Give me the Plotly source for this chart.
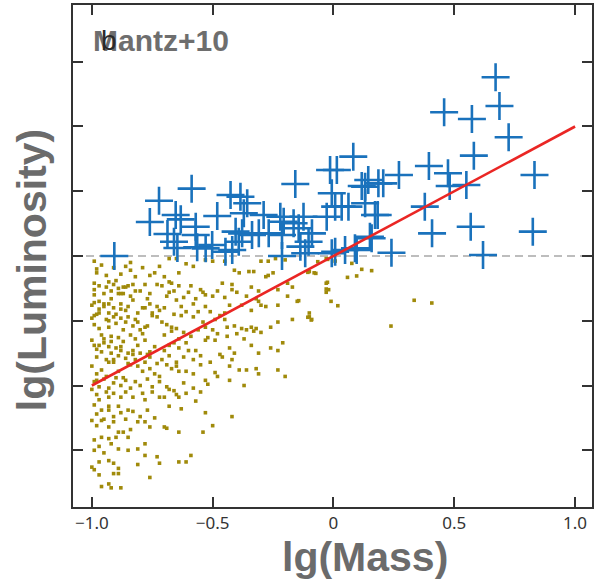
import plotly.graph_objects as go

# Blue crosses: clusters above the luminosity threshold (lg(Mass), lg(Luminosity))
det_mass = [-0.907, -0.760, -0.722, -0.587, -0.653, -0.632, -0.687, -0.660, -0.646, -0.570,
            -0.570, -0.564, -0.529, -0.502, -0.481, -0.426, -0.385, -0.357, -0.371, -0.405,
            -0.378, -0.337, -0.392, -0.447, -0.419, -0.289, -0.309, -0.268, -0.220, -0.206,
            -0.213, -0.213, -0.158, -0.165, -0.144, -0.124, -0.089, -0.103, -0.137, -0.117,
            -0.014, 0.014, 0.082, -0.007, 0.007, 0.034, 0.062, -0.028, 0.007, 0.048,
            0.089, 0.131, 0.144, 0.131, 0.172, 0.151, 0.671, 0.687, 0.458, 0.573,
            0.725, 0.581, 0.395, 0.474, 0.271, 0.832, 0.117, 0.186, 0.206, 0.481,
            0.550, 0.183, 0.378, 0.158, 0.408, 0.568, 0.825, 0.240, 0.619, 0.096,
            -0.007]
det_lum = [0.000, 0.263, 0.427, 0.520, 0.317, 0.283, 0.170, 0.110, 0.062, 0.226,
           0.162, 0.067, 0.059, 0.085, 0.309, 0.471, 0.458, 0.407, 0.330, 0.188,
           0.175, 0.162, 0.110, 0.033, 0.046, 0.317, 0.175, 0.175, 0.303, 0.265,
           0.162, 0.000, 0.556, 0.253, 0.214, 0.303, 0.175, 0.110, 0.072, 0.021,
           0.664, 0.664, 0.767, 0.484, 0.381, 0.381, 0.381, 0.303, 0.033, 0.046,
           0.059, 0.535, 0.587, 0.407, 0.317, 0.149, 1.380, 1.158, 1.110, 1.058,
           0.917, 0.775, 0.695, 0.639, 0.625, 0.625, 0.541, 0.561, 0.561, 0.541,
           0.548, 0.317, 0.381, 0.137, 0.175, 0.226, 0.188, 0.025, 0.008, 0.046,
           0.021]

# Olive dots: clusters below the threshold
pop_mass = [
    -0.99, -0.84, -0.68, -0.65, -0.61, -0.58, -0.53, -0.50, -0.45, -0.41, -0.39, -0.35, -0.33,
    -0.30, -0.27, -0.24, -0.20, -0.10, -0.08, -0.03, -0.98, -0.84, -0.64, -0.74,
    -0.99, -0.93, -0.90, -0.87, -0.85, -0.83, -0.80, -0.89, -0.73, -0.71, -0.68, -0.67, -0.64,
    -0.59, -0.54, -0.53, -0.46, -0.42, -0.42, -0.34, -0.31, -0.28, -0.27, -0.25, -0.23, -0.19,
    -0.17, -0.03, -0.02,
    -1.00, -0.99, -0.99, -0.97, -0.95, -0.93, -0.92, -0.88, -0.88, -0.86, -0.84, -0.83, -0.77,
    -0.78, -0.76, -0.73, -0.72, -0.68, -0.65, -0.63, -0.58, -0.53, -0.51, -0.56, -0.47, -0.45,
    -0.43, -0.38, -0.34, -0.32, -0.31, -0.30, -0.28, -0.23, -0.19, -0.15, -0.10, -0.01, -0.03,
    -1.00, -0.99, -0.98, -0.97, -0.94, -0.93, -0.91, -0.88, -0.85, -0.82, -0.81, -0.78, -0.77,
    -0.75, -0.73, -0.71, -0.69, -0.67, -0.65, -0.63, -0.61, -0.58, -0.54, -0.53, -0.50, -0.49,
    -0.45, -0.44, -0.41, -0.38, -0.36, -0.34, -0.33, -0.32, -0.30, -0.26, -0.23, -0.17, -0.09,
    -0.10,
    -1.00, -0.99, -0.98, -0.97, -0.95, -0.93, -0.92, -0.90, -0.88, -0.87, -0.85, -0.83, -0.81,
    -0.78, -0.77, -0.76, -0.74, -0.70, -0.68, -0.66, -0.64, -0.61, -0.60, -0.57, -0.53, -0.49,
    -0.47, -0.43, -0.41, -0.37, -0.34, -0.31, -0.26, -0.23, -0.21,
    -1.00, -0.98, -0.98, -0.96, -0.94, -0.93, -0.91, -0.89, -0.87, -0.84, -0.81, -0.79, -0.76,
    -0.74, -0.72, -0.69, -0.67, -0.65, -0.64, -0.61, -0.58, -0.55, -0.53, -0.49, -0.48, -0.43,
    -0.39, -0.36, -0.31, -0.32, -0.23, -0.20, -0.37, -0.43,
    -1.00, -0.98, -0.97, -0.94, -0.93, -0.91, -0.88, -0.86, -0.83, -0.79, -0.78, -0.75, -0.72,
    -0.70, -0.68, -0.65, -0.64, -0.61, -0.57, -0.53, -0.63, -0.42, -0.85, -0.89, -0.93, -0.99,
    -0.96,
    -1.00, -0.98, -0.96, -0.93, -0.91, -0.89, -0.87, -0.84, -0.81, -0.78, -0.76, -0.70, -0.69,
    -0.64, -0.54, -0.50, -0.99, -0.96, -0.93, -0.90, -0.85,
    -0.99, -0.97, -0.95, -0.92, -0.89, -0.85, -0.81, -0.78, -1.00, -0.97, -0.93, -0.91, -0.89,
    -0.89, -0.81, -0.78, -0.73, -0.72, -0.64, -0.61, -0.59, -0.76,
    -0.99, -0.96, -0.93, -0.92, -0.88, -0.97, -0.91,
    -0.065, -0.024, 0.007, 0.076, -0.106, -0.073, 0.117, 0.158, 0.096, 0.058, -0.025, -0.030,
    -0.144, 0.018, -0.106, -0.092, 0.238, 0.334, 0.407,
    -0.97, -0.96, -0.99, -0.95, -0.93, -0.92, -0.90, -0.89, -0.87, -0.86, -0.84, -0.83, -0.82,
    -0.80, -0.79,
    -0.98, -0.96, -0.94, -0.92, -0.91, -0.89, -0.88, -0.86, -0.85, -0.83, -0.82, -0.80, -0.78,
    -0.76, -0.73,
    -0.99, -0.97, -0.95, -0.93, -0.91, -0.90, -0.88, -0.86, -0.84, -0.82, -0.80, -0.77, -0.75,
    -0.72, -0.68,
    -0.98, -0.95, -0.93, -0.91, -0.88, -0.86, -0.83, -0.80, -0.77, -0.74,
    -0.99, -0.97, -0.95, -0.94, -0.92, -0.91, -0.89, -0.87, -0.86, -0.82, -0.78, -0.76,
    -0.97, -0.95, -0.93, -0.91, -0.90, -0.88, -0.85, -0.81, -0.79, -0.75, -0.70, -0.66,
    -0.98, -0.96, -0.94, -0.91, -0.88, -0.86, -0.82, -0.79, -0.76, -0.72, -0.70,
    -0.70, -0.67, -0.64, -0.62, -0.59, -0.56, -0.52, -0.48, -0.44, -0.40,
    -0.69, -0.66, -0.62, -0.60, -0.57, -0.55, -0.50, -0.48, -0.45, -0.40, -0.36,
    -0.71, -0.68, -0.65, -0.62, -0.58, -0.55, -0.51, -0.46, -0.42,
    -0.69, -0.66, -0.62, -0.58, -0.55, -0.52,
]
pop_lum = [
    -0.04, -0.05, -0.02, -0.02, -0.06, -0.08, -0.03, -0.04, -0.04, -0.11, -0.13, -0.12, -0.12,
    -0.04, -0.04, -0.02, -0.03, -0.12, -0.13, -0.02, -0.13, -0.11, -0.13, -0.13,
    -0.21, -0.20, -0.19, -0.24, -0.23, -0.22, -0.27, -0.29, -0.22, -0.23, -0.20, -0.21, -0.23,
    -0.23, -0.28, -0.30, -0.21, -0.22, -0.26, -0.24, -0.27, -0.16, -0.15, -0.13, -0.26, -0.21,
    -0.24, -0.21, -0.26,
    -0.38, -0.30, -0.36, -0.35, -0.37, -0.37, -0.33, -0.29, -0.37, -0.42, -0.31, -0.34, -0.33,
    -0.40, -0.37, -0.39, -0.42, -0.28, -0.34, -0.39, -0.37, -0.39, -0.43, -0.43, -0.46, -0.44,
    -0.38, -0.38, -0.42, -0.33, -0.35, -0.38, -0.39, -0.38, -0.31, -0.35, -0.44, -0.35, -0.28,
    -0.48, -0.46, -0.45, -0.44, -0.49, -0.50, -0.47, -0.48, -0.47, -0.49, -0.51, -0.55, -0.54,
    -0.46, -0.47, -0.51, -0.53, -0.55, -0.56, -0.46, -0.43, -0.47, -0.51, -0.55, -0.57, -0.49,
    -0.49, -0.55, -0.54, -0.56, -0.57, -0.55, -0.58, -0.56, -0.59, -0.55, -0.51, -0.49, -0.49,
    -0.47,
    -0.65, -0.69, -0.72, -0.69, -0.67, -0.70, -0.66, -0.71, -0.70, -0.66, -0.75, -0.73, -0.69,
    -0.65, -0.76, -0.74, -0.70, -0.73, -0.69, -0.67, -0.71, -0.67, -0.73, -0.73, -0.65, -0.65,
    -0.76, -0.71, -0.75, -0.64, -0.69, -0.75, -0.71, -0.73, -0.67,
    -0.85, -0.91, -0.96, -0.88, -0.93, -0.82, -0.80, -0.89, -0.94, -0.84, -0.85, -0.89, -0.87,
    -0.91, -0.93, -0.84, -0.87, -0.85, -0.89, -0.89, -0.91, -0.84, -0.96, -0.90, -0.93, -0.85,
    -0.88, -0.88, -0.91, -0.87, -0.88, -0.93, -1.00, -0.96,
    -1.03, -1.07, -1.11, -1.05, -1.09, -1.06, -1.09, -1.05, -1.09, -1.06, -1.11, -1.05, -1.09,
    -1.09, -1.16, -1.07, -1.09, -1.06, -1.12, -1.21, -1.18, -1.24, -1.19, -1.16, -1.16, -1.15,
    -1.19,
    -1.27, -1.31, -1.27, -1.32, -1.28, -1.36, -1.36, -1.34, -1.28, -1.28, -1.32, -1.32, -1.33,
    -1.36, -1.36, -1.31, -1.42, -1.40, -1.41, -1.40, -1.40,
    -1.50, -1.47, -1.52, -1.45, -1.49, -1.50, -1.49, -1.45, -1.63, -1.59, -1.58, -1.60, -1.64,
    -1.68, -1.61, -1.54, -1.55, -1.60, -1.59, -1.59, -1.54, -1.71,
    -1.65, -1.78, -1.76, -1.79, -1.79, -1.69, -1.68,
    -0.044, -0.026, -0.039, -0.057, -0.126, -0.134, -0.103, -0.113, -0.154, -0.165, -0.203, -0.255,
    -0.345, -0.384, -0.473, -0.494, -0.541, -0.342, -0.363,
    -0.56, -0.61, -0.53, -0.64, -0.55, -0.62, -0.52, -0.63, -0.57, -0.51, -0.61, -0.54, -0.64,
    -0.57, -0.60,
    -0.78, -0.74, -0.80, -0.75, -0.82, -0.77, -0.73, -0.79, -0.83, -0.76, -0.80, -0.75, -0.82,
    -0.78, -0.83,
    -0.97, -1.01, -0.95, -1.02, -0.98, -0.94, -1.00, -0.96, -1.02, -0.97, -1.00, -0.95, -1.01,
    -0.97, -1.03,
    -1.22, -1.26, -1.19, -1.24, -1.21, -1.26, -1.20, -1.24, -1.19, -1.25,
    -0.26, -0.23, -0.29, -0.24, -0.27, -0.22, -0.25, -0.29, -0.24, -0.27, -0.22, -0.29,
    -0.41, -0.39, -0.44, -0.40, -0.45, -0.41, -0.39, -0.44, -0.40, -0.44, -0.40, -0.45,
    -0.10, -0.07, -0.15, -0.09, -0.14, -0.08, -0.16, -0.09, -0.15, -0.08, -0.16,
    -0.61, -0.58, -0.64, -0.59, -0.62, -0.57, -0.63, -0.60, -0.62, -0.60,
    -0.31, -0.27, -0.32, -0.28, -0.33, -0.26, -0.31, -0.27, -0.32, -0.28, -0.31,
    -0.80, -0.77, -0.82, -0.78, -0.80, -0.77, -0.82, -0.78, -0.80,
    -1.01, -1.04, -0.98, -1.02, -1.05, -0.99,
]

# Best-fit relation and threshold
fit_mass = [-1.0, 1.0]
fit_lum = [-1.0, 1.0]
lum_threshold = 0.0

x_tickvals = [-1.0, -0.5, 0.0, 0.5, 1.0]
x_ticktext = ["\u22121.0", "\u22120.5", "0", "0.5", "1.0"]
y_tickvals = [-1.5, -1.0, -0.5, 0.0, 0.5, 1.0, 1.5]

fig = go.Figure()
fig.add_trace(go.Scatter(x=pop_mass, y=pop_lum, mode="markers",
                         marker=dict(symbol="square", size=3.6, color="#a08a0a", line=dict(width=0)),
                         showlegend=False, hoverinfo="skip"))
fig.add_trace(go.Scatter(x=det_mass, y=det_lum, mode="markers",
                         marker=dict(symbol="cross-thin", size=20,
                                     line=dict(width=2.6, color="#1a72bc")),
                         showlegend=False, hoverinfo="skip"))
fig.add_trace(go.Scatter(x=fit_mass, y=fit_lum, mode="lines",
                         line=dict(color="#ea2624", width=2.6),
                         showlegend=False, hoverinfo="skip"))

fig.add_shape(type="line", xref="paper", x0=0, x1=1, yref="y", y0=lum_threshold, y1=lum_threshold,
              line=dict(color="#a8a8a8", width=1.6, dash="8px,5px"), layer="below")

axis_col = "#333333"
fig.update_xaxes(range=[-1.078, 1.070], tickvals=x_tickvals, ticktext=x_ticktext,
                 ticks="inside", ticklen=10, tickwidth=1.5, tickcolor=axis_col,
                 showline=True, linecolor=axis_col, linewidth=1.5, mirror="ticks",
                 showgrid=False, zeroline=False,
                 tickfont=dict(family="Noto Sans", size=17, color="#333333"))
fig.update_yaxes(range=[-1.938, 1.938], tickvals=y_tickvals, showticklabels=False,
                 ticks="inside", ticklen=10, tickwidth=1.5, tickcolor=axis_col,
                 showline=True, linecolor=axis_col, linewidth=1.5, mirror="ticks",
                 showgrid=False, zeroline=False)

title_col = "#6b6b6b"
fig.add_annotation(text="lg(Mass)", xref="paper", yref="paper", x=0.5624, y=-0.100,
                   xanchor="center", yanchor="middle", showarrow=False,
                   font=dict(family="Liberation Sans, Arial", size=41, color=title_col, weight="bold"))
fig.add_annotation(text="lg(Luminosity)", xref="paper", yref="paper", x=-0.0787, y=0.472,
                   xanchor="center", yanchor="middle", showarrow=False, textangle=-90,
                   font=dict(family="Liberation Sans, Arial", size=41, color=title_col, weight="bold"))
fig.add_annotation(text="Mantz+10", xref="paper", yref="paper", x=0.0345, y=0.930,
                   xanchor="left", yanchor="middle", showarrow=False,
                   font=dict(family="Liberation Sans, Arial", size=30, color="#6e6e6e", weight="bold"))
fig.add_annotation(text="b", xref="paper", yref="paper", x=0.050, y=0.930,
                   xanchor="left", yanchor="middle", showarrow=False,
                   font=dict(family="Liberation Sans, Arial", size=28, color="#2a2a2a"))

fig.update_layout(width=594, height=587, margin=dict(l=73, r=0, t=5, b=80),
                  plot_bgcolor="white", paper_bgcolor="white")
fig.write_html("out.html")
